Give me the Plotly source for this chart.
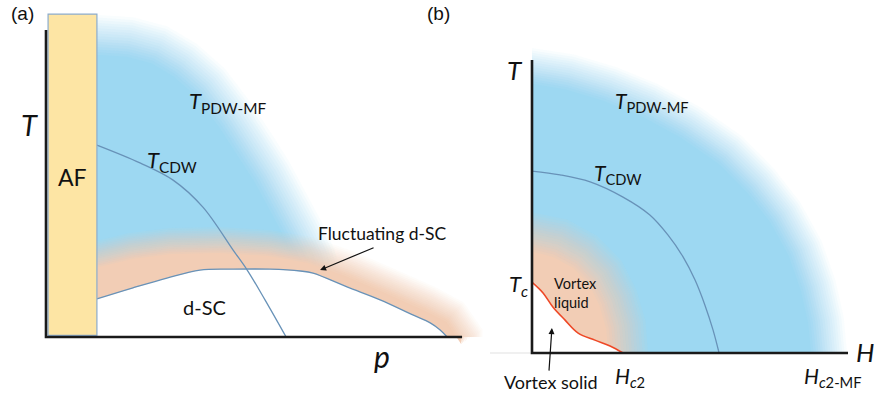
import numpy as np
import plotly.graph_objects as go

# ---------------- data (schematic) ----------------
# Panel (a): x = doping p, y = temperature T (arbitrary units, axis ends = 1)
af_p = [0.005, 0.123]
af_T = [0.005, 1.052]

tcdw_a_p = [0.123, 0.227, 0.307, 0.379, 0.452, 0.486, 0.529, 0.580]
tcdw_a_T = [0.625, 0.567, 0.511, 0.423, 0.283, 0.218, 0.121, 0.0]

dome_p = [0.123, 0.210, 0.292, 0.372, 0.452, 0.541, 0.614, 0.645, 0.727, 0.807, 0.886, 0.928, 0.952, 0.969]
dome_T = [0.124, 0.160, 0.192, 0.218, 0.221, 0.221, 0.215, 0.208, 0.163, 0.121, 0.072, 0.046, 0.023, 0.0]

pdw_a_p = [0.123, 0.203, 0.275, 0.336, 0.396, 0.457, 0.505, 0.546, 0.589, 0.621, 0.650, 0.674]
pdw_a_T = [0.984, 0.977, 0.951, 0.902, 0.831, 0.723, 0.625, 0.537, 0.430, 0.349, 0.267, 0.153]

fluct_p = [0.123, 0.203, 0.300, 0.420, 0.541, 0.638, 0.734, 0.831, 0.928, 0.988, 1.029]
fluct_T = [0.270, 0.296, 0.313, 0.316, 0.306, 0.283, 0.238, 0.182, 0.124, 0.081, 0.0]

# Panel (b): x = field H, y = temperature T
pdw_b_H = [0.0, 0.120, 0.247, 0.373, 0.500, 0.627, 0.722, 0.801, 0.864, 0.905, 0.930, 0.940]
pdw_b_T = [0.980, 0.959, 0.918, 0.863, 0.788, 0.693, 0.590, 0.481, 0.358, 0.232, 0.113, 0.0]

liq_H = [0.0, 0.089, 0.168, 0.231, 0.272, 0.297, 0.304]
liq_T = [0.413, 0.392, 0.345, 0.276, 0.188, 0.096, 0.0]

melt_H = [0.0, 0.035, 0.066, 0.104, 0.146, 0.199, 0.247, 0.288]
melt_T = [0.242, 0.205, 0.157, 0.113, 0.068, 0.044, 0.024, 0.0]

tcdw_b_H = [0.0, 0.089, 0.184, 0.288, 0.373, 0.430, 0.478, 0.516, 0.547, 0.573, 0.592]
tcdw_b_T = [0.621, 0.608, 0.584, 0.532, 0.471, 0.403, 0.328, 0.249, 0.164, 0.078, 0.0]

# ---------------- styling ----------------
BLUE = (157, 216, 242)
PEACH = (242, 205, 181)
LINE_BLUE = "rgb(104,146,184)"
RED = "rgb(238,72,38)"
FONT = "Lato"
N_LAYERS = 16

# pixel per unit (used only to make the soft edges isotropic)
SX_A, SY_A = 414.0, 307.0
SX_B, SY_B = 316.0, 293.0


def offset_curve(xs, ys, d, sx, sy):
    X = np.asarray(xs, float) * sx
    Y = np.asarray(ys, float) * sy
    tx = np.gradient(X)
    ty = np.gradient(Y)
    n = np.hypot(tx, ty)
    tx, ty = tx / n, ty / n
    nx, ny = -ty, tx
    return list((X + d * nx) / sx), list((Y + d * ny) / sy)


def soft_layers(xs, ys, w, sx, sy, rgb, closer, xa, ya):
    traces = []
    for k in range(1, N_LAYERS + 1):
        d = w * (1 - 2 * (k - 1) / (N_LAYERS - 1))
        a = 1.0 / (N_LAYERS - k + 1)
        ox, oy = offset_curve(xs, ys, d, sx, sy)
        px, py = closer(ox, oy)
        traces.append(go.Scatter(
            x=px, y=py, xaxis=xa, yaxis=ya, mode="lines", fill="toself",
            line=dict(width=0), hoverinfo="skip",
            fillcolor="rgba(%d,%d,%d,%.4f)" % (rgb + (a,)),
        ))
    return traces


def close_a(ox, oy):
    return [0.10] + ox + [ox[-1], 0.10, 0.10], [oy[0]] + oy + [0.0, 0.0, oy[0]]


def close_b(ox, oy):
    ox = list(ox)
    oy = list(oy)
    ox[0] = 0.0
    oy[-1] = 0.0
    return [0.0] + ox + [0.0], [0.0] + oy + [0.0]


fig = go.Figure()

# ---- panel (a) ----
for t in soft_layers(pdw_a_p, pdw_a_T, 20, SX_A, SY_A, BLUE, close_a, "x", "y"):
    fig.add_trace(t)
for t in soft_layers(fluct_p, fluct_T, 13, SX_A, SY_A, PEACH, close_a, "x", "y"):
    fig.add_trace(t)

fig.add_trace(go.Scatter(x=dome_p + [dome_p[0], dome_p[0]], y=dome_T + [0.0, dome_T[0]], mode="lines",
                         fill="toself", fillcolor="white", line=dict(width=0),
                         hoverinfo="skip"))
fig.add_trace(go.Scatter(x=tcdw_a_p, y=tcdw_a_T, mode="lines",
                         line=dict(color=LINE_BLUE, width=1.3, shape="spline"), hoverinfo="skip"))
fig.add_trace(go.Scatter(x=dome_p, y=dome_T, mode="lines",
                         line=dict(color=LINE_BLUE, width=1.3, shape="spline"), hoverinfo="skip"))
# AF box
fig.add_trace(go.Scatter(x=[af_p[0], af_p[1], af_p[1], af_p[0], af_p[0]],
                         y=[af_T[0], af_T[0], af_T[1], af_T[1], af_T[0]],
                         mode="lines", fill="toself", fillcolor="rgb(253,229,164)",
                         line=dict(color="rgb(140,172,205)", width=1.2), hoverinfo="skip"))
# axes of (a)
fig.add_trace(go.Scatter(x=[0, 0, 1.005], y=[1.0, 0, 0], mode="lines",
                         line=dict(color="#1a1a1a", width=2.6), hoverinfo="skip"))

# ---- panel (b) ----
for t in soft_layers(pdw_b_H, pdw_b_T, 18, SX_B, SY_B, BLUE, close_b, "x2", "y2"):
    fig.add_trace(t)
for t in soft_layers(liq_H, liq_T, 20, SX_B, SY_B, PEACH, close_b, "x2", "y2"):
    fig.add_trace(t)
fig.add_trace(go.Scatter(x=[0.0] + melt_H + [0.0], y=[0.0] + melt_T + [0.0], xaxis="x2", yaxis="y2",
                         mode="lines", fill="toself", fillcolor="white",
                         line=dict(width=0, shape="spline"), hoverinfo="skip"))
fig.add_trace(go.Scatter(x=tcdw_b_H, y=tcdw_b_T, xaxis="x2", yaxis="y2", mode="lines",
                         line=dict(color=LINE_BLUE, width=1.3, shape="spline"), hoverinfo="skip"))
fig.add_trace(go.Scatter(x=melt_H, y=melt_T, xaxis="x2", yaxis="y2", mode="lines",
                         line=dict(color=RED, width=1.6, shape="spline"), hoverinfo="skip"))
fig.add_trace(go.Scatter(x=[-0.133, 0], y=[0, 0], xaxis="x2", yaxis="y2", mode="lines",
                         line=dict(color="rgb(225,225,225)", width=1), hoverinfo="skip"))
fig.add_trace(go.Scatter(x=[0, 0, 1.0], y=[1.0, 0, 0], xaxis="x2", yaxis="y2", mode="lines",
                         line=dict(color="#1a1a1a", width=2.6), hoverinfo="skip"))

# ---------------- annotations ----------------
def ann(x, y, text, size, xr="x", yr="y", xanchor="center", yanchor="middle", family=FONT, align="center"):
    return dict(x=x, y=y, xref=xr, yref=yr, text=text, showarrow=False,
                xanchor=xanchor, yanchor=yanchor, align=align,
                font=dict(family=family, size=size, color="#111"))

annotations = [
    ann(-0.0556, 1.055, "(a)", 19, family="Liberation Sans"),
    ann(0.949, 1.055, "(b)", 19, family="Liberation Sans"),
    ann(-0.041, 0.691, "<i>T</i>", 29),
    ann(0.065, 0.521, "AF", 23),
    ann(0.341, 0.765, "<i>T</i><sub>PDW-MF</sub>", 22, xanchor="left"),
    ann(0.239, 0.573, "<i>T</i><sub>CDW</sub>", 22, xanchor="left"),
    ann(0.812, 0.336, "Fluctuating d-SC", 17.5),
    ann(0.384, 0.098, "d-SC", 20),
    ann(0.812, -0.062, "<i>p</i>", 30),
    dict(x=0.662, y=0.218, xref="x", yref="y", text="", showarrow=True, ax=55, ay=-23,
         arrowhead=2, arrowsize=1, arrowwidth=1.2, arrowcolor="#111"),
    # panel b
    ann(-0.054, 0.966, "<i>T</i>", 26, "x2", "y2"),
    ann(0.256, 0.857, "<i>T</i><sub>PDW-MF</sub>", 21, "x2", "y2", xanchor="left"),
    ann(0.190, 0.611, "<i>T</i><sub>CDW</sub>", 21, "x2", "y2", xanchor="left"),
    ann(-0.079, 0.232, "<i>T</i><sub><i>c</i></sub>", 22, "x2", "y2", xanchor="left"),
    ann(0.063, 0.205, "Vortex<br>liquid", 14.5, "x2", "y2", xanchor="left", align="left"),
    ann(0.060, -0.099, "Vortex solid", 18, "x2", "y2"),
    dict(x=0.063, y=0.085, xref="x2", yref="y2", text="", showarrow=True, ax=-3, ay=44,
         arrowhead=2, arrowsize=1, arrowwidth=1.2, arrowcolor="#111"),
    ann(0.256, -0.082, "<i>H</i><sub><i>c</i>2</sub>", 21, "x2", "y2", xanchor="left"),
    ann(1.054, 0.003, "<i>H</i>", 26, "x2", "y2"),
    ann(0.854, -0.082, "<i>H</i><sub><i>c</i>2-MF</sub>", 21, "x2", "y2", xanchor="left"),
]

fig.update_layout(
    width=875, height=402,
    margin=dict(l=0, r=0, t=0, b=0),
    paper_bgcolor="white", plot_bgcolor="white",
    showlegend=False,
    xaxis=dict(domain=[0, 1], range=[-0.1111, 2.0024], visible=False, fixedrange=True),
    yaxis=dict(domain=[0, 1], range=[-0.2117, 1.0977], visible=False, fixedrange=True),
    xaxis2=dict(domain=[0, 1], range=[-1.6835, 1.0854], visible=False, overlaying="x",
                anchor="y2", fixedrange=True),
    yaxis2=dict(domain=[0, 1], range=[-0.1672, 1.2048], visible=False, overlaying="y",
                anchor="x2", fixedrange=True),
    annotations=annotations,
)

fig.write_html("out.html",
               config={"displayModeBar": False},
               post_script="document.body.style.margin='0';document.body.style.overflow='hidden';")
